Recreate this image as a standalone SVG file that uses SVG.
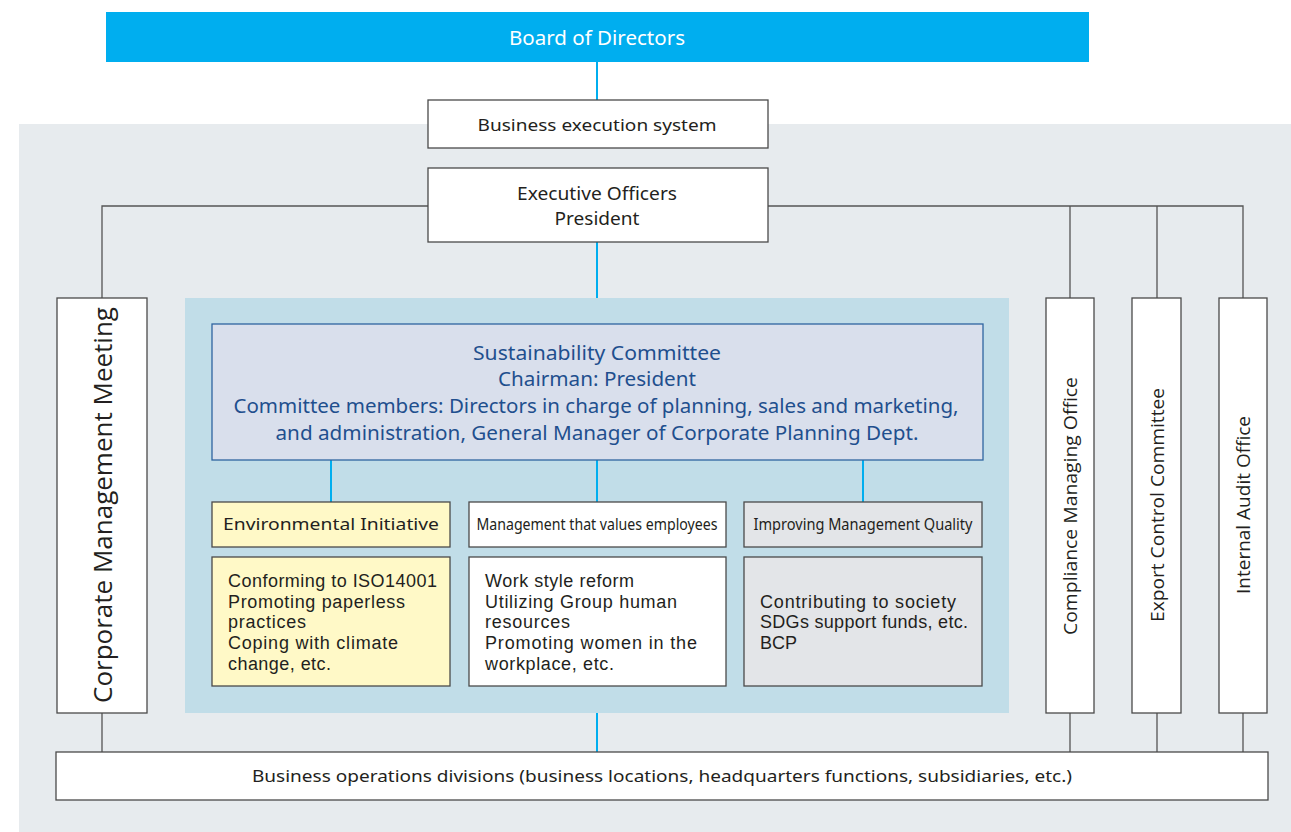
<svg xmlns="http://www.w3.org/2000/svg" width="1291" height="832" viewBox="0 0 1291 832">
<style>
.box{fill:#fff;stroke:#4a4a4a;stroke-width:1.3}
.t{font-family:"Noto Sans","Open Sans","Liberation Sans",sans-serif;fill:#231f20}
.b{font-family:"Liberation Sans",Arial,sans-serif;fill:#231f20;font-size:18px}
.v{font-family:"Open Sans","Noto Sans","Liberation Sans",sans-serif;fill:#231f20}
.c{text-anchor:middle}
.gl{fill:none;stroke:#555;stroke-width:1.3}
.bl{fill:none;stroke:#00aeef;stroke-width:2}
.sc{fill:#1f4f8e}
</style>
<rect x="19" y="124" width="1272" height="708" fill="#e7ebee"/>
<rect x="185" y="298" width="824" height="415" fill="#c1dde8"/>

<g id="connectors">
<path class="bl" d="M597 62V100M597 242V298M331 460V502M597 460V502M863 460V502M597 713V752"/>
<path class="gl" d="M428 206H102V298M768 206H1243V298M1070 206V298M1157 206V298M102 713V752M1070 713V752M1157 713V752M1243 713V752"/>
</g>

<g id="board">
<rect x="106" y="12" width="983" height="50" fill="#00aeef"/>
<text class="t c" x="597" y="45" font-size="20" style="fill:#fff" textLength="176" lengthAdjust="spacingAndGlyphs">Board of Directors</text>
</g>
<g id="business-execution">
<rect class="box" x="428" y="100" width="340" height="48"/>
<text class="t c" x="597" y="131" font-size="17" textLength="239" lengthAdjust="spacingAndGlyphs">Business execution system</text>
</g>
<g id="executive">
<rect class="box" x="428" y="168" width="340" height="74"/>
<text class="t c" x="597" y="200" font-size="18" textLength="160" lengthAdjust="spacingAndGlyphs">Executive Officers</text>
<text class="t c" x="597" y="225" font-size="18" textLength="85" lengthAdjust="spacingAndGlyphs">President</text>
</g>
<g id="corporate-meeting">
<rect class="box" x="57" y="298" width="90" height="415"/>
<text class="v c" transform="translate(112 505) rotate(-90)" font-size="26" textLength="396" lengthAdjust="spacingAndGlyphs">Corporate Management Meeting</text>
</g>
<g id="compliance">
<rect class="box" x="1046" y="298" width="48" height="415"/>
<text class="v c" transform="translate(1077 506) rotate(-90)" font-size="18" textLength="258" lengthAdjust="spacingAndGlyphs">Compliance Managing Office</text>
</g>
<g id="export-control">
<rect class="box" x="1132" y="298" width="49" height="415"/>
<text class="v c" transform="translate(1164 505) rotate(-90)" font-size="18" textLength="234" lengthAdjust="spacingAndGlyphs">Export Control Committee</text>
</g>
<g id="internal-audit">
<rect class="box" x="1219" y="298" width="48" height="415"/>
<text class="v c" transform="translate(1250 505) rotate(-90)" font-size="18" textLength="178" lengthAdjust="spacingAndGlyphs">Internal Audit Office</text>
</g>
<g id="sustainability">
<rect x="212" y="324" width="771" height="136" fill="#d9dfec" stroke="#2e64a0" stroke-width="1.3"/>
<text class="t c sc" x="597" y="360" font-size="20" style="fill:#1f4f8e" textLength="248" lengthAdjust="spacingAndGlyphs">Sustainability Committee</text>
<text class="t c sc" x="597" y="386" font-size="20" style="fill:#1f4f8e" textLength="198" lengthAdjust="spacingAndGlyphs">Chairman: President</text>
<text class="t c sc" x="596" y="413" font-size="20" style="fill:#1f4f8e" textLength="725" lengthAdjust="spacingAndGlyphs">Committee members: Directors in charge of planning, sales and marketing,</text>
<text class="t c sc" x="597" y="440" font-size="20" style="fill:#1f4f8e" textLength="643" lengthAdjust="spacingAndGlyphs">and administration, General Manager of Corporate Planning Dept.</text>
</g>
<g id="environmental">
<rect x="212" y="502" width="238" height="45" fill="#fff9c7" stroke="#4a4a4a" stroke-width="1.3"/>
<text class="t c" x="331" y="530" font-size="17" textLength="216" lengthAdjust="spacingAndGlyphs">Environmental Initiative</text>
<rect x="212" y="557" width="238" height="129" fill="#fff9c7" stroke="#4a4a4a" stroke-width="1.3"/>
<text class="b" lengthAdjust="spacingAndGlyphs">
<tspan x="228" y="587" textLength="209">Conforming to ISO14001</tspan>
<tspan x="228" y="608" textLength="177">Promoting paperless</tspan>
<tspan x="228" y="628" textLength="78">practices</tspan>
<tspan x="228" y="649" textLength="170">Coping with climate</tspan>
<tspan x="228" y="670" textLength="103">change, etc.</tspan>
</text>
</g>
<g id="employees">
<rect class="box" x="469" y="502" width="257" height="45"/>
<text class="t c" x="597" y="530" font-size="16" textLength="241" lengthAdjust="spacingAndGlyphs">Management that values employees</text>
<rect class="box" x="469" y="557" width="257" height="129"/>
<text class="b" lengthAdjust="spacingAndGlyphs">
<tspan x="485" y="587" textLength="149">Work style reform</tspan>
<tspan x="485" y="608" textLength="192">Utilizing Group human</tspan>
<tspan x="485" y="628" textLength="85">resources</tspan>
<tspan x="485" y="649" textLength="212">Promoting women in the</tspan>
<tspan x="485" y="670" textLength="129">workplace, etc.</tspan>
</text>
</g>
<g id="quality">
<rect x="744" y="502" width="238" height="45" fill="#e3e5e8" stroke="#4a4a4a" stroke-width="1.3"/>
<text class="t c" x="863" y="530" font-size="16" textLength="219" lengthAdjust="spacingAndGlyphs">Improving Management Quality</text>
<rect x="744" y="557" width="238" height="129" fill="#e3e5e8" stroke="#4a4a4a" stroke-width="1.3"/>
<text class="b" lengthAdjust="spacingAndGlyphs">
<tspan x="760" y="608" textLength="196">Contributing to society</tspan>
<tspan x="760" y="628" textLength="208">SDGs support funds, etc.</tspan>
<tspan x="760" y="649">BCP</tspan>
</text>
</g>
<g id="operations">
<rect class="box" x="56" y="752" width="1212" height="48"/>
<text class="t c" x="662" y="782" font-size="17" textLength="820" lengthAdjust="spacingAndGlyphs">Business operations divisions (business locations, headquarters functions, subsidiaries, etc.)</text>
</g>
</svg>
